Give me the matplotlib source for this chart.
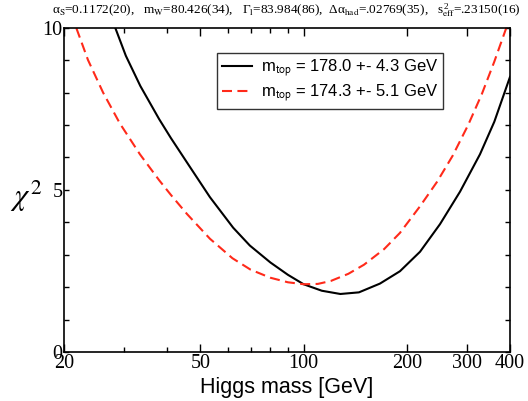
import matplotlib
matplotlib.use("Agg")
import matplotlib.pyplot as plt
from matplotlib.ticker import FixedLocator, NullFormatter

# data (Higgs mass in GeV, chi^2)
mass_black = [27.0, 28.2, 30.3, 33.4, 37.9, 41.0, 46.6, 53.3, 62.3, 69.7, 80.0, 90.0,
              100.0, 113.0, 128.0, 145.0, 167.0, 191.0, 218.6, 250.0, 286.0, 327.0, 360.0, 400.0]
chi2_black = [10.56, 10.0, 9.13, 8.2, 7.18, 6.6, 5.71, 4.78, 3.84, 3.29, 2.77, 2.39,
              2.1, 1.9, 1.8, 1.85, 2.12, 2.5, 3.1, 3.95, 4.95, 6.1, 7.1, 8.48]

mass_red = [20.0, 21.7, 23.5, 26.0, 29.1, 33.3, 37.9, 41.0, 45.7, 53.3, 62.0, 70.0, 80.0, 90.0,
            100.0, 110.0, 120.0, 135.0, 150.0, 171.7, 191.0, 218.6, 245.0, 272.0, 302.0,
            331.0, 360.0, 389.0, 400.0]
chi2_red = [11.1, 10.0, 9.0, 8.0, 7.05, 6.1, 5.3, 4.85, 4.26, 3.5, 2.9, 2.55, 2.3, 2.16,
            2.1, 2.11, 2.2, 2.42, 2.7, 3.18, 3.68, 4.5, 5.25, 6.05, 7.0,
            7.95, 8.95, 9.95, 10.3]

labels = [r"m$_{\mathsf{top}}$ = 178.0 +- 4.3 GeV", r"m$_{\mathsf{top}}$ = 174.3 +- 5.1 GeV"]
xmajor = [20, 50, 100, 200, 300, 400]
xminor = [30, 40, 60, 70, 80, 90]
ymajor = [0, 5, 10]
yminor = [1, 2, 3, 4, 6, 7, 8, 9]
title = (r"$\alpha_{\rm S}$=0.1172(20),   m$_{\rm W}$=80.426(34),   $\Gamma_{\rm l}$=83.984(86),  "
         r"$\Delta\alpha_{\rm had}$=.02769(35),   s$^{\,2}_{\rm eff}$=.23150(16)")

plt.rcParams['mathtext.fontset'] = 'stix'
plt.rcParams['mathtext.default'] = 'regular'

fig = plt.figure(figsize=(5.28, 4.01), dpi=100)
ax = fig.add_axes([0.1212, 0.121, 0.8447, 0.8104])

ax.plot(mass_black, chi2_black, color='black', lw=1.5, label=labels[0])
ax.plot(mass_red, chi2_red, color='#ff2a1a', lw=1.5, dashes=(4.8, 2.6), label=labels[1])

ax.set_xscale('log')
ax.set_xlim(20, 400)
ax.set_ylim(0, 10)
ax.xaxis.set_major_locator(FixedLocator(xmajor))
ax.xaxis.set_minor_locator(FixedLocator(xminor))
ax.xaxis.set_minor_formatter(NullFormatter())
ax.set_xticklabels([str(v) for v in xmajor])
ax.yaxis.set_major_locator(FixedLocator(ymajor))
ax.yaxis.set_minor_locator(FixedLocator(yminor))
ax.set_yticklabels([str(v) for v in ymajor])

ax.tick_params(which='both', direction='in', top=True, right=True, width=1.0)
ax.tick_params(axis='x', which='major', length=6, pad=1)
ax.tick_params(axis='x', which='minor', length=3.6)
ax.tick_params(axis='y', which='both', length=3.8, pad=1)
for lab in ax.get_xticklabels() + ax.get_yticklabels():
    lab.set_family('Liberation Serif')
    lab.set_fontsize(14.5)
for s in ax.spines.values():
    s.set_linewidth(1.2)

ax.set_xlabel('Higgs mass [GeV]', family='Liberation Sans', fontsize=15.5, labelpad=3)
fig.text(0.05, 0.51, r'$\mathit{\chi}^{\,\mathrm{2}}$', fontsize=22, ha='center', va='center')

fig.text(0.543, 0.972, title, fontsize=9.5, ha='center', va='center', family='Liberation Serif')

leg = ax.legend(loc='upper right', bbox_to_anchor=(0.85, 0.9215),
                prop={'family': 'Liberation Sans', 'size': 12},
                frameon=True, fancybox=False, edgecolor='black', handlelength=1.8,
                borderpad=0.3, labelspacing=0.2, handletextpad=0.55, borderaxespad=0)
leg.get_frame().set_linewidth(1.0)

fig.savefig('out.png', dpi=100)
